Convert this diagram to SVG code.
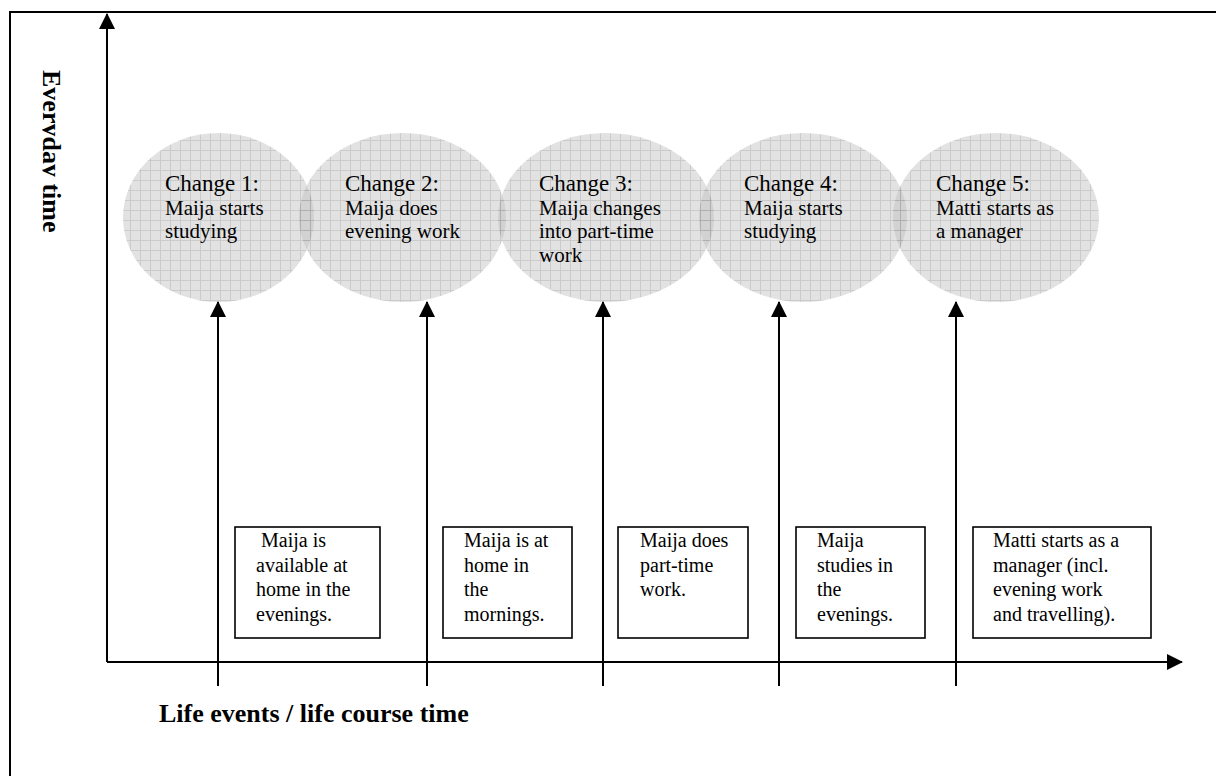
<svg xmlns="http://www.w3.org/2000/svg" width="1216" height="776" viewBox="0 0 1216 776">
<defs>
<pattern id="grid" patternUnits="userSpaceOnUse" width="10" height="10">
<rect width="10" height="10" fill="#bfbfbf"/>
<path d="M0 0.5H10M0.5 0V10" stroke="#8d8d8d" stroke-width="1" fill="none"/>
</pattern>
<marker id="ah" viewBox="0 0 16 16" refX="15" refY="8" markerWidth="16" markerHeight="16" markerUnits="userSpaceOnUse" orient="auto">
<path d="M0 0L16 8L0 16Z" fill="#000"/>
</marker>
<clipPath id="clipY"><rect x="42.5" y="0" width="40" height="300"/></clipPath>
</defs>
<style>
.ell{fill:url(#grid);opacity:0.456}
.box{fill:#fff;stroke:#000;stroke-width:1.6}
.t{font-family:"Liberation Serif","Times New Roman",serif;fill:#000}
.h{font-size:23px}
.s{font-size:21px}
.b{font-size:20px}
.ax{font-family:"Liberation Serif","Times New Roman",serif;font-weight:bold;font-size:26px;fill:#000}
.ln{stroke:#000;stroke-width:2;fill:none}
.ar{stroke:#000;stroke-width:2;fill:none;marker-end:url(#ah)}
</style>
<rect width="1216" height="776" fill="#fff"/>
<g id="frame">
<path d="M10 776V12H1216" class="ln"/>
</g>
<g id="ellipses">
<ellipse id="e1" class="ell" cx="218.5" cy="217.5" rx="95.5" ry="84.5"/>
<ellipse id="e2" class="ell" cx="402.5" cy="217.5" rx="103.5" ry="84.5"/>
<ellipse id="e3" class="ell" cx="606" cy="217.5" rx="108" ry="84.5"/>
<ellipse id="e4" class="ell" cx="803" cy="217.5" rx="104" ry="84.5"/>
<ellipse id="e5" class="ell" cx="996" cy="217.5" rx="103" ry="84.5"/>
</g>
<g id="change1" class="t">
<text x="165" y="191" class="h">Change 1:</text>
<text x="165" y="215" class="s">Maija starts</text>
<text x="165" y="238" class="s">studying</text>
</g>
<g id="change2" class="t">
<text x="345" y="191" class="h">Change 2:</text>
<text x="345" y="215" class="s">Maija does</text>
<text x="345" y="238" class="s">evening work</text>
</g>
<g id="change3" class="t">
<text x="539" y="191" class="h">Change 3:</text>
<text x="539" y="215" class="s">Maija changes</text>
<text x="539" y="238" class="s">into part-time</text>
<text x="539" y="262" class="s">work</text>
</g>
<g id="change4" class="t">
<text x="744" y="191" class="h">Change 4:</text>
<text x="744" y="215" class="s">Maija starts</text>
<text x="744" y="238" class="s">studying</text>
</g>
<g id="change5" class="t">
<text x="936" y="191" class="h">Change 5:</text>
<text x="936" y="215" class="s">Matti starts as</text>
<text x="936" y="238" class="s">a manager</text>
</g>
<g id="connectors">
<line x1="107" y1="662" x2="107" y2="14" class="ar"/>
<line x1="107" y1="662" x2="1182" y2="662" class="ar"/>
<line x1="218" y1="686" x2="218" y2="302" class="ar"/>
<line x1="427" y1="686" x2="427" y2="302" class="ar"/>
<line x1="603" y1="686" x2="603" y2="302" class="ar"/>
<line x1="779" y1="686" x2="779" y2="302" class="ar"/>
<line x1="956" y1="686" x2="956" y2="302" class="ar"/>
</g>
<g id="box1">
<rect x="235" y="527" width="145" height="111" class="box"/>
<text class="t b" x="261" y="547">Maija is</text>
<text class="t b" x="256" y="572">available at</text>
<text class="t b" x="256" y="596">home in the</text>
<text class="t b" x="256" y="621">evenings.</text>
</g>
<g id="box2">
<rect x="443" y="527" width="129" height="111" class="box"/>
<text class="t b" x="464" y="547">Maija is at</text>
<text class="t b" x="464" y="572">home in</text>
<text class="t b" x="464" y="596">the</text>
<text class="t b" x="464" y="621">mornings.</text>
</g>
<g id="box3">
<rect x="618" y="527" width="130" height="111" class="box"/>
<text class="t b" x="640" y="547">Maija does</text>
<text class="t b" x="640" y="572">part-time</text>
<text class="t b" x="640" y="596">work.</text>
</g>
<g id="box4">
<rect x="796" y="527" width="129" height="111" class="box"/>
<text class="t b" x="817" y="547">Maija</text>
<text class="t b" x="817" y="572">studies in</text>
<text class="t b" x="817" y="596">the</text>
<text class="t b" x="817" y="621">evenings.</text>
</g>
<g id="box5">
<rect x="973" y="527" width="178" height="111" class="box"/>
<text class="t b" x="993" y="547">Matti starts as a</text>
<text class="t b" x="993" y="572">manager (incl.</text>
<text class="t b" x="993" y="596">evening work</text>
<text class="t b" x="993" y="621">and travelling).</text>
</g>
<g id="yLabel" clip-path="url(#clipY)">
<text class="ax" x="43" y="70" transform="rotate(90 43 70)">Everyday time</text>
</g>
<g id="xLabel">
<text class="ax" x="159" y="722">Life events / life course time</text>
</g>
</svg>
